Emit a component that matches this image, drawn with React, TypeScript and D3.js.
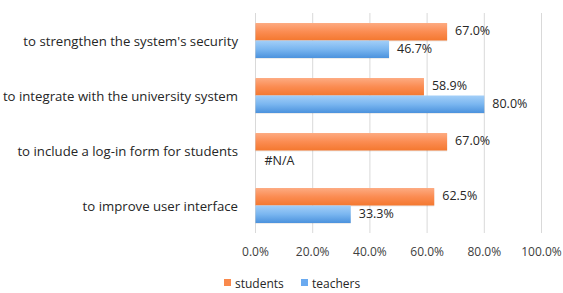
import React from "react";
import * as d3 from "d3";

const categories = [
  "to strengthen the system's security",
  "to integrate with the university system",
  "to include a log-in form for students",
  "to improve user interface",
];
const students: (number | null)[] = [67.0, 58.9, 67.0, 62.5];
const teachers: (number | null)[] = [46.7, 80.0, null, 33.3];
const xTicks = [0, 20, 40, 60, 80, 100];
const seriesNames = ["students", "teachers"];

const W = 563;
const H = 293;
const FONT = "'Open Sans', 'Liberation Sans', sans-serif";

export default function App() {
  const x = d3.scaleLinear().domain([0, 100]).range([255.5, 541.5]);
  const y = d3.scaleBand().domain(categories).range([13, 233]).paddingInner(0.364).paddingOuter(0.182);
  const inner = d3.scaleBand().domain(seriesNames).range([0, y.bandwidth()]);
  const fmt = (v: number) => v.toFixed(1) + "%";
  const series = [
    { name: "students", values: students, grad: "gOrange" },
    { name: "teachers", values: teachers, grad: "gBlue" },
  ];
  return (
    <svg width={W} height={H} style={{ position: "absolute", left: 0, top: 0 }}>
      <defs>
        <linearGradient id="gOrange" x1="0" y1="0" x2="0" y2="1">
          <stop offset="0" stopColor="#fdab82" />
          <stop offset="0.5" stopColor="#fb8c52" />
          <stop offset="1" stopColor="#f4782f" />
        </linearGradient>
        <linearGradient id="gBlue" x1="0" y1="0" x2="0" y2="1">
          <stop offset="0" stopColor="#a3cff8" />
          <stop offset="0.5" stopColor="#7ab6f0" />
          <stop offset="1" stopColor="#4b92dd" />
        </linearGradient>
      </defs>
      <rect width={W} height={H} fill="#fff" />
      {xTicks.map((t) => (
        <line key={t} x1={x(t)} x2={x(t)} y1={13} y2={233} stroke="#d9d9d9" strokeWidth={1} />
      ))}
      {xTicks.map((t) => (
        <text key={"l" + t} x={x(t)} y={256} textAnchor="middle" fontFamily={FONT} fontSize={12} fill="#404040">
          {fmt(t)}
        </text>
      ))}
      {categories.map((c) => (
        <text key={c} x={238} y={(y(c) as number) + y.bandwidth() / 2} textAnchor="end" fontFamily={FONT} fontSize={13.2} fill="#262626" dominantBaseline="central">
          {c}
        </text>
      ))}
      {series.map((s) =>
        categories.map((c, i) => {
          const v = s.values[i];
          const by = (y(c) as number) + (inner(s.name) as number);
          const bh = inner.bandwidth();
          if (v == null) {
            return (
              <text key={s.name + c} x={x(0) + 9} y={by + bh / 2 + 1} fontFamily={FONT} fontSize={12.5} fill="#262626" dominantBaseline="central">
                #N/A
              </text>
            );
          }
          return (
            <g key={s.name + c}>
              <rect x={x(0)} y={by + 1} width={x(v) - x(0)} height={bh} fill="#000" opacity={0.08} />
              <rect x={x(0)} y={by} width={x(v) - x(0)} height={bh} fill={`url(#${s.grad})`} />
              <text x={x(v) + 8} y={by + bh / 2 - 1} fontFamily={FONT} fontSize={12.5} fill="#262626" dominantBaseline="central">
                {fmt(v)}
              </text>
            </g>
          );
        })
      )}
      <g fontFamily={FONT} fontSize={12} fill="#262626">
        <rect x={224} y={279} width={7} height={7} fill="#f9894c" />
        <text x={235} y={283} dominantBaseline="central">students</text>
        <rect x={301} y={279} width={7} height={7} fill="#6aaaf0" />
        <text x={312} y={283} dominantBaseline="central">teachers</text>
      </g>
    </svg>
  );
}
